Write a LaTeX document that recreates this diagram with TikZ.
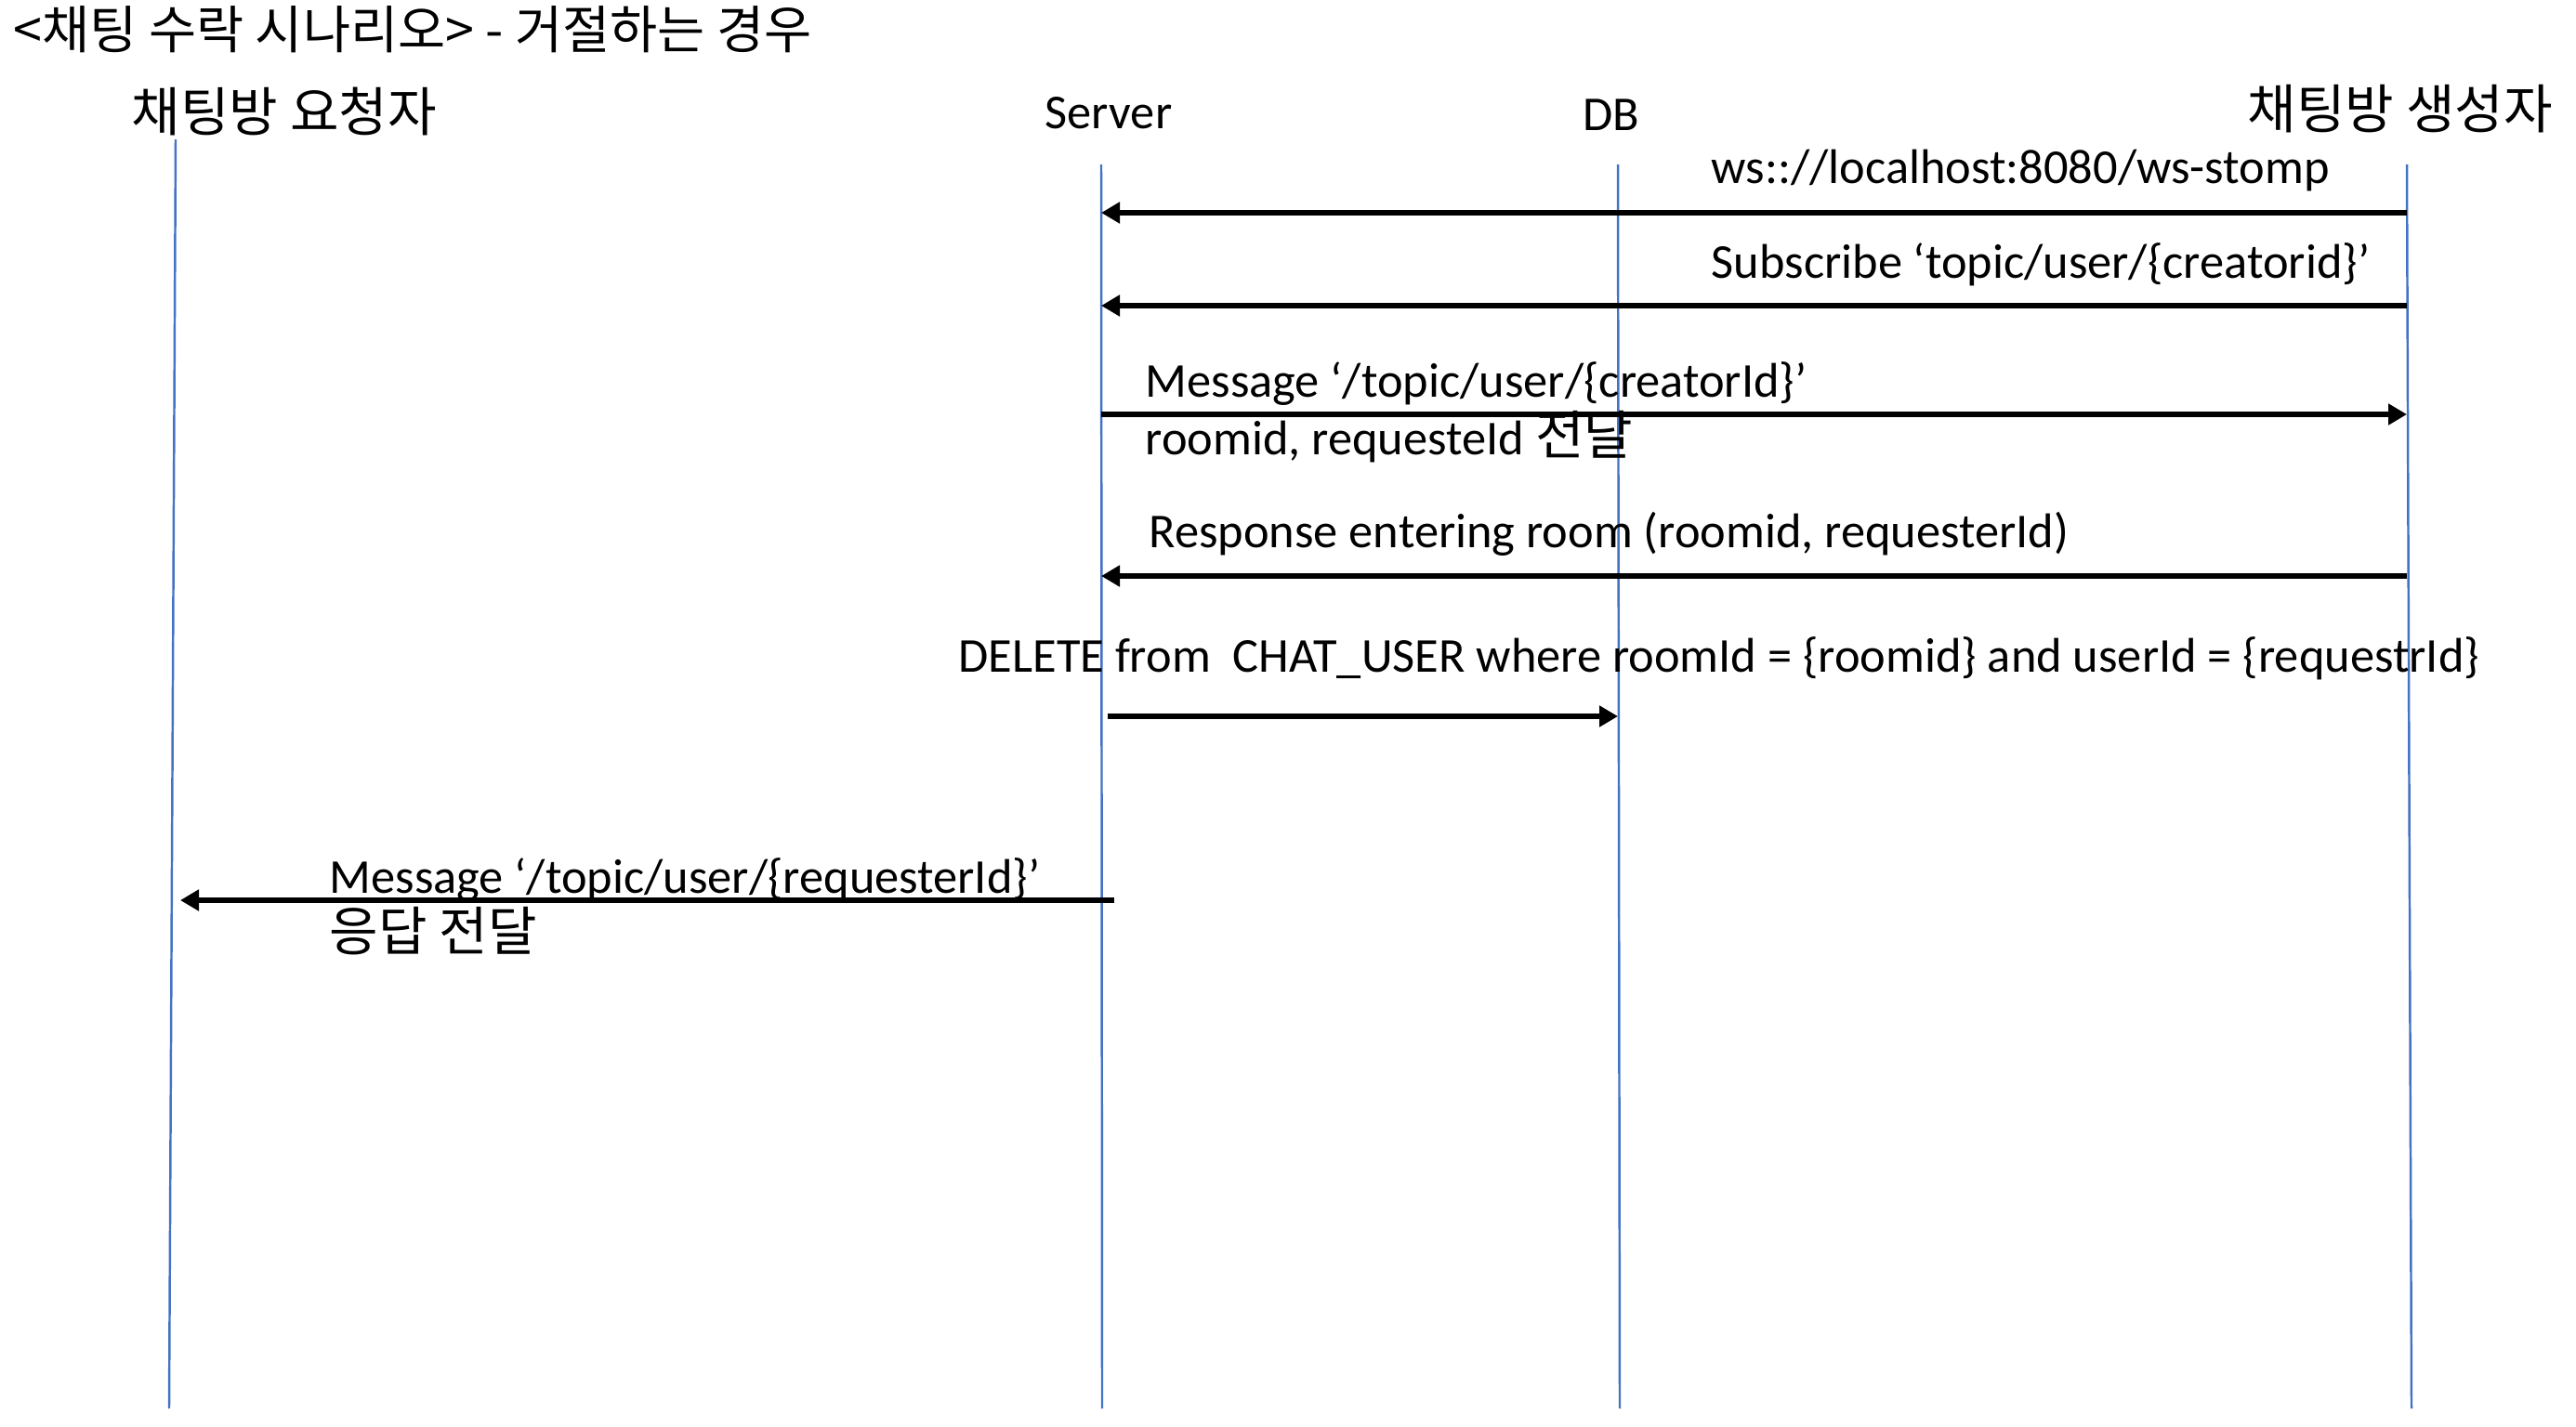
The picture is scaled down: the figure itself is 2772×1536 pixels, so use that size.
\documentclass[tikz,border=0pt]{standalone}
\usepackage{fontspec}
\setmainfont{Carlito}
\newfontfamily\krfont[Scale=1.09]{Noto Sans CJK KR}
\usetikzlibrary{arrows.meta,positioning}
\definecolor{lifeBlue}{RGB}{68,114,196}
\newcommand{\ko}[1]{{\krfont #1}}

\begin{document}
\begin{tikzpicture}[x=0.01cm,y=-0.01cm,
        txt/.style={inner sep=0pt,font=\fontsize{14.9}{17.5}\selectfont},
        lbl/.style={txt,anchor=west,align=left},
        life/.style={lifeBlue,line width=0.7pt},
        msg/.style={-{Triangle[length=2mm,width=2.2mm]},line width=1.6pt}
      ]
        \useasboundingbox (0,0) rectangle (2772,1536);
        % heads
        \node[lbl,font=\fontsize{14.5}{17.5}\selectfont] (title) at (14,32) {\krfont <채팅 수락 시나리오> - 거절하는 경우};
        \node[lbl] (req) at (141,120) {\ko{채팅방 요청자}};
        \node[txt] (srv) at (1193,122) {Server};
        \node[txt] (db) at (1734,124) {DB};
        \node[lbl] (cre) at (2418,117) {\ko{채팅방 생성자}};
        % lifelines
        \foreach \n/\xa/\ya/\xb in {req/189/150/182,srv/1185/177/1186,db/1741/177/1743,cre/2590/177/2595}{
          \coordinate (\n Top) at (\xa,\ya);
          \coordinate (\n Bot) at (\xb,1516);
          \draw[life] (\n Top) -- (\n Bot);
        }
        % messages
        \node[lbl] (m1) at (1841,184) {ws:://localhost:8080/ws-stomp};
        \draw[msg] (creTop |- 0,229) -- (srvTop |- 0,229);
        \node[lbl] (m2) at (1841,285) {Subscribe ‘topic/user/\{creatorid\}’};
        \draw[msg] (creTop |- 0,329) -- (srvTop |- 0,329);
        \node[lbl] (m3) at (1232,444) {Message ‘/topic/user/\{creatorId\}’\\roomid, requesteId \ko{전달}};
        \draw[msg] (srvTop |- 0,446) -- (creTop |- 0,446);
        \node[lbl] (m4) at (1236,575) {Response entering room (roomid, requesterId)};
        \draw[msg] (creTop |- 0,620) -- (srvTop |- 0,620);
        \node[lbl] (m5) at (1031,709) {DELETE from\ \ CHAT\_USER where roomId = \{roomid\} and userId = \{requestrId\}};
        \draw[msg] ([xshift=0.07cm]srvTop |- 0,771) -- (dbTop |- 0,771);
        \node[lbl] (m6) at (354,976) {Message ‘/topic/user/\{requesterId\}’\\\ko{응답 전달}};
        \draw[msg] ([xshift=0.14cm]srvTop |- 0,969) -- ([xshift=0.12cm]reqBot |- 0,969);
      \end{tikzpicture}
\end{document}
